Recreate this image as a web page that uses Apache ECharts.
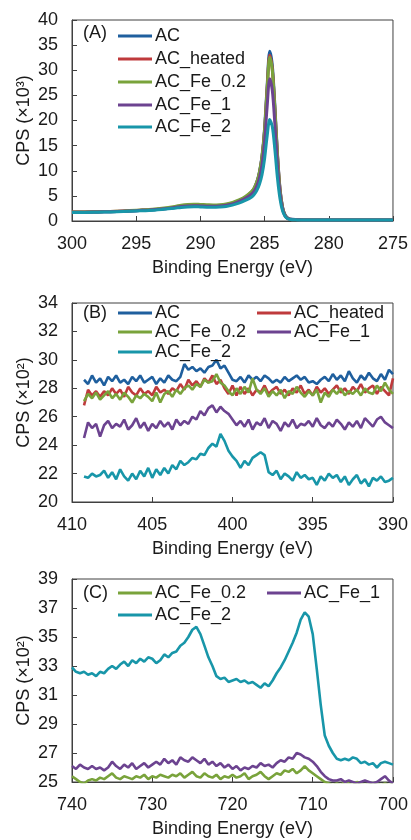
<!DOCTYPE html>
<html><head><meta charset="utf-8">
<script src="https://cdn.jsdelivr.net/npm/echarts@6/dist/echarts.min.js"></script>
<style>html,body{margin:0;padding:0;background:#fff}#c{width:411px;height:840px}</style>
</head><body><div id="c"></div>
<script>
// ---------- Panel A (C 1s) ----------
const xA = [300,299,298,297,296,295,294,293,292,291.5,291,290.5,290,289.5,289,288.5,288,287.5,287,286.5,286,285.8,285.6,285.4,285.2,285.0,284.8,284.6,284.4,284.2,284.0,283.8,283.6,283.4,283.2,283.0,282.5,282,281,280,279,278,277,276,275];
const A_AC = [1.75,1.75,1.8,1.85,1.95,2.05,2.2,2.4,2.7,2.9,3.05,3.1,3.05,3.0,3.0,3.05,3.2,3.5,4.0,4.7,5.8,6.6,7.8,9.8,13.0,18.5,27.0,33.8,31.0,23.0,13.5,6.5,2.8,1.2,0.6,0.4,0.3,0.25,0.2,0.2,0.2,0.2,0.2,0.2,0.2];
const A_heated = [1.8,1.8,1.85,1.9,2.0,2.1,2.25,2.45,2.75,2.95,3.1,3.15,3.1,3.05,3.05,3.1,3.25,3.55,4.05,4.75,5.8,6.5,7.7,9.6,12.7,18.0,26.4,33.0,30.3,22.4,13.2,6.3,2.7,1.1,0.55,0.35,0.28,0.22,0.2,0.2,0.2,0.2,0.2,0.2,0.2];
const A_Fe02 = [1.8,1.8,1.85,1.9,2.0,2.15,2.3,2.55,2.9,3.15,3.3,3.35,3.3,3.25,3.2,3.25,3.4,3.7,4.2,4.9,5.9,6.6,7.8,9.7,12.8,18.0,26.2,32.6,30.0,22.3,13.0,6.2,2.6,1.1,0.5,0.3,0.25,0.2,0.2,0.2,0.2,0.2,0.2,0.2,0.2];
const A_Fe1 = [1.75,1.75,1.8,1.85,1.95,2.05,2.2,2.4,2.7,2.9,3.0,3.05,3.0,2.95,2.95,3.0,3.15,3.4,3.9,4.5,5.4,6.0,7.0,8.6,11.2,15.8,22.8,28.3,26.0,19.3,11.3,5.5,2.3,1.0,0.5,0.3,0.25,0.2,0.2,0.2,0.2,0.2,0.2,0.2,0.2];
const A_Fe2 = [1.7,1.7,1.75,1.8,1.9,2.0,2.1,2.3,2.55,2.7,2.8,2.85,2.8,2.75,2.75,2.8,2.9,3.15,3.55,4.1,4.8,5.3,6.1,7.3,9.2,12.4,16.9,20.2,18.8,14.2,8.6,4.4,2.0,0.9,0.45,0.3,0.22,0.2,0.2,0.2,0.2,0.2,0.2,0.2,0.2];

// ---------- Panel B (N 1s) ----------
const xB = [409.25,409,408.75,408.5,408.25,408,407.75,407.5,407.25,407,406.75,406.5,406.25,406,405.75,405.5,405.25,405,404.75,404.5,404.25,404,403.75,403.5,403.25,403,402.75,402.5,402.25,402,401.75,401.5,401.25,401,400.75,400.5,400.25,400,399.75,399.5,399.25,399,398.75,398.5,398.25,398,397.75,397.5,397.25,397,396.75,396.5,396.25,396,395.75,395.5,395.25,395,394.75,394.5,394.25,394,393.75,393.5,393.25,393,392.75,392.5,392.25,392,391.75,391.5,391.25,391,390.75,390.5,390.25,390];
const B_AC = [28.6,28.3,28.9,28.4, 28.7,28.2,28.8,28.5, 28.9,28.4,28.6,28.3, 28.8,28.5,28.9,28.4, 28.6,28.8,28.3,28.7, 28.4,28.9,28.6,28.5, 28.8,29.7,29.3,29.5, 29.2,29.4,29.1,29.5, 29.6,30.0,29.4,29.6, 29.1,28.6,28.5,28.8, 28.4,28.9,28.6,28.8, 28.5,28.9,28.7,28.4, 28.6,28.4,28.8,28.5, 28.7,28.9,28.6,28.8, 28.4,28.5,28.3,28.6, 28.8,28.5,29.0,28.6, 28.9,28.5,29.2,28.7, 28.4,28.9,28.6,29.1, 28.7,28.5,29.0,28.6, 29.3,29.0];
const B_heated = [26.8,27.9,27.5,27.8, 27.4,27.8,27.5,28.0, 27.6,27.9,27.4,28.1, 27.7,27.5,28.0,27.6, 27.8,27.5,28.1,27.7, 27.9,27.6,28.0,27.8, 28.3,27.9,28.6,28.2, 28.5,28.1,28.7,28.4, 28.9,28.3,28.6,28.0, 27.6,28.2,27.5,28.1, 27.6,28.0,27.5,27.9, 27.7,28.2,27.6,27.9, 28.1,27.6,27.9,27.5, 28.0,27.7,28.2,27.6, 27.9,27.5,28.1,27.7, 28.0,27.6,27.9,28.2, 27.7,28.0,27.6,28.1, 27.8,28.3,27.7,28.0, 28.2,27.6,28.1,27.8, 27.5,28.7];
const B_Fe02 = [27.1,27.6,27.3,27.7, 27.2,27.5,27.8,27.3, 27.6,27.2,27.7,27.4, 27.0,27.5,27.3,27.6, 27.4,27.1,27.7,27.0, 27.6,27.8,27.4,27.9, 27.6,28.0,28.2,27.9, 28.3,28.1,28.6,28.4, 28.5,29.0,28.4,28.2, 27.8,27.5,28.0,27.6, 28.1,27.7,28.7,27.9, 27.6,28.0,27.4,27.8, 27.5,27.9,27.3,27.8, 27.6,28.1,27.7,27.4, 27.8,27.5,27.9,27.0, 27.7,27.4,27.9,27.6, 28.0,27.5,27.8,27.6, 27.9,27.5,28.0,27.7, 27.6,28.2,27.8,28.4, 27.9,27.6];
const B_Fe1 = [24.5,25.6,25.2,25.5, 24.6,25.4,25.7,25.2, 25.5,25.3,25.8,25.1, 25.4,25.9,25.2,25.6, 25.0,25.5,25.2,25.7, 25.3,25.6,25.1,25.8, 25.4,25.7,25.5,26.0, 25.8,26.4,26.1,26.6, 26.8,26.3,26.7,26.4, 26.2,25.8,25.4,25.7, 25.3,25.8,25.1,25.6, 25.4,25.9,25.2,25.7, 25.5,25.0,25.6,25.3, 25.8,25.2,25.5,25.4, 25.7,25.3,25.9,25.4, 25.2,25.6,25.3,25.8, 25.5,25.1,25.6,25.3, 25.7,25.2,25.9,25.6, 25.3,25.8,26.0,25.6, 25.4,25.2];
const B_Fe2 = [21.8,21.7,22.0,21.8, 21.9,22.2,21.7,22.1, 21.6,22.3,21.8,21.5, 22.0,21.6,22.2,21.8, 22.4,21.7,22.3,21.9, 22.4,22.0,22.6,22.3, 22.9,22.6,22.8,23.1, 23.0,23.4,23.3,23.8, 24.1,23.9,24.8,24.3, 23.6,23.2,22.9,22.4, 22.9,22.6,23.1,23.3, 23.5,23.3,22.1,21.9, 22.2,21.6,22.0,21.8, 21.5,22.1,21.7,21.9, 21.6,21.7,21.2,21.8, 21.5,22.0,21.7,21.9, 21.4,21.8,21.2,21.6, 21.9,21.3,21.6,21.1, 21.7,21.5,21.8,21.4, 21.5,21.7];

// ---------- Panel C (Fe 2p) ----------
const xC = [740,739.5,739,738.5,738,737.5,737,736.5,736,735.5,735,734.5,734,733.5,733,732.5,732,731.5,731,730.5,730,729.5,729,728.5,728,727.5,727,726.5,726,725.5,725,724.5,724,723.5,723,722.5,722,721.5,721,720.5,720,719.5,719,718.5,718,717.5,717,716.5,716,715.5,715,714.5,714,713.5,713,712.5,712,711.5,711,710.5,710,709.5,709,708.5,708,707.5,707,706.5,706,705.5,705,704.5,704,703.5,703,702.5,702,701.5,701,700.5,700];
const C_Fe02 = [25.4,25.2,25.0,24.9,25.1,25.2,25.1,25.3,25.2,25.4,25.6, 25.3,25.2,25.4,25.3,25.2,25.4,25.3,25.5,25.2,25.4, 25.3,25.5,25.4,25.3,25.5,25.4,25.6,25.3,25.5,25.7, 25.4,25.3,25.6,25.4,25.3,25.5,25.2,25.4,25.3,25.5, 25.3,25.4,25.6,25.2,25.4,25.5,25.7,25.4,25.2,25.4, 25.6,25.5,25.8,25.7,25.9,25.6,25.8,26.1,25.8,25.6, 25.4,25.2,25.0,24.9,24.8,24.9,24.8,25.0,24.9,24.8, 25.0,24.9,24.8,24.9,24.8,24.9,24.8,24.9,24.8,24.9];
const C_Fe1 = [26.1,25.9,26.2,26.0,25.9,26.1,25.9,26.0,25.8,26.0,26.4, 26.1,25.9,26.2,26.0,26.3,25.9,26.1,26.3,26.0,26.2, 26.4,26.2,26.6,26.3,26.5,26.2,26.7,26.5,26.4,26.7, 26.5,26.3,26.6,26.2,26.4,26.1,26.3,26.0,26.2,25.9, 26.1,25.8,26.0,25.9,26.1,26.0,26.3,26.1,26.2,26.0, 26.3,26.5,26.4,26.7,26.6,27.0,26.9,26.7,26.6,26.4, 26.1,25.7,25.4,25.2,25.1,25.1,25.2,25.0,25.1,25.0, 24.9,25.0,25.1,25.0,24.9,25.0,25.2,25.4,25.1,24.9];
const C_Fe2 = [32.9,32.6,32.5,32.6,32.4,32.5,32.3,32.6,32.5,32.8,33.0, 32.8,33.1,33.3,33.0,33.4,33.2,33.5,33.3,33.6,33.5, 33.2,33.4,33.8,33.6,33.9,34.0,34.4,34.6,35.0,35.5, 35.7,35.2,34.4,33.6,33.0,32.3,32.1,32.2,31.9,32.0, 32.1,31.9,32.0,31.8,31.9,31.7,31.5,31.8,31.6,32.0, 32.5,32.9,33.4,34.0,34.6,35.3,36.2,36.7,36.4,35.2, 32.8,30.3,28.2,27.5,27.0,26.6,26.5,26.6,26.5,26.7, 26.6,26.3,26.4,26.2,26.3,26.0,26.3,26.4,26.3,26.2];

const names = ['AC','AC_heated','AC_Fe_0.2','AC_Fe_1','AC_Fe_2'];
const colors = {'AC':'#1f5f9e','AC_heated':'#bf3a3c','AC_Fe_0.2':'#79a33b','AC_Fe_1':'#6c4390','AC_Fe_2':'#1896a9'};

const FONT = "'Liberation Sans', Arial, sans-serif";
const TXT = '#1a1a1a';
const AX = '#404040';

function pairs(xs, ys){ return xs.map((x,i)=>[x, ys[i]]); }

function mkX(idx, min, max, interval){
  return {type:'value', gridIndex:idx, min, max, interval, inverse:true,
    name:'Binding Energy (eV)', nameLocation:'middle', nameGap:38, nameMoveOverlap:false,
    nameTextStyle:{fontFamily:FONT,fontSize:18,color:TXT},
    axisLine:{show:true,lineStyle:{color:AX,width:1}},
    axisTick:{show:true,inside:true,length:5,lineStyle:{color:AX}},
    axisLabel:{fontFamily:FONT,fontSize:18,color:TXT,margin:14},
    splitLine:{show:false}};
}
function mkY(idx, min, max, interval, nm){
  return {type:'value', gridIndex:idx, min, max, interval,
    name:nm, nameLocation:'middle', nameGap:39, nameMoveOverlap:false,
    nameTextStyle:{fontFamily:FONT,fontSize:18,color:TXT},
    axisLine:{show:true,lineStyle:{color:AX,width:1}},
    axisTick:{show:true,inside:true,length:5,lineStyle:{color:AX}},
    axisLabel:{fontFamily:FONT,fontSize:18,color:TXT,margin:14},
    splitLine:{show:false}};
}
function mkS(name, idx, xs, ys, w, smooth){
  return {type:'line', name, xAxisIndex:idx, yAxisIndex:idx, data:pairs(xs,ys),
    showSymbol:false, symbol:'none', smooth:smooth||false, clip:true,
    lineStyle:{color:colors[name], width:w}, itemStyle:{color:colors[name]}, z:2};
}
function mkL(name, left, top){
  return {data:[name], left, top, padding:0, itemWidth:34, itemHeight:3, icon:'rect',
    itemGap:0, selectedMode:false,
    textStyle:{fontFamily:FONT,fontSize:18,color:TXT,padding:[0,0,0,-2]}};
}
function lbl(t, x, y){
  return {type:'text', left:x, top:y, style:{text:t, font:'18px '+FONT, fill:TXT}};
}

const chart = echarts.init(document.getElementById('c'), null, {renderer:'canvas'});
chart.setOption({
  animation:false,
  backgroundColor:'#fff',
  grid:[
    {left:72, top:20, width:321, height:201, show:true, borderColor:AX, borderWidth:1},
    {left:72, top:303, width:321, height:199, show:true, borderColor:AX, borderWidth:1},
    {left:72, top:579, width:321, height:203, show:true, borderColor:AX, borderWidth:1}
  ],
  xAxis:[mkX(0,275,300,5), mkX(1,390,410,5), mkX(2,700,740,10)],
  yAxis:[mkY(0,0,40,5,'CPS (×10³)'), mkY(1,20,34,2,'CPS (×10²)'), mkY(2,25,39,2,'CPS (×10²)')],
  legend:[
    mkL('AC',118,27), mkL('AC_heated',118,50), mkL('AC_Fe_0.2',118,73), mkL('AC_Fe_1',118,96), mkL('AC_Fe_2',118,118),
    mkL('AC',118,304), mkL('AC_heated',257,304), mkL('AC_Fe_0.2',118,323), mkL('AC_Fe_1',257,323), mkL('AC_Fe_2',118,343),
    mkL('AC_Fe_0.2',118,584), mkL('AC_Fe_1',267,584), mkL('AC_Fe_2',118,606)
  ],
  graphic:[ lbl('(A)',83,24), lbl('(B)',83,304), lbl('(C)',83,584) ],
  series:[
    mkS('AC',0,xA,A_AC,3,0.3), mkS('AC_heated',0,xA,A_heated,3,0.3), mkS('AC_Fe_0.2',0,xA,A_Fe02,3,0.3),
    mkS('AC_Fe_1',0,xA,A_Fe1,3,0.3), mkS('AC_Fe_2',0,xA,A_Fe2,3,0.3),
    mkS('AC',1,xB,B_AC,2.6), mkS('AC_heated',1,xB,B_heated,2.6), mkS('AC_Fe_0.2',1,xB,B_Fe02,2.6),
    mkS('AC_Fe_1',1,xB,B_Fe1,2.6), mkS('AC_Fe_2',1,xB,B_Fe2,2.6),
    mkS('AC_Fe_0.2',2,xC,C_Fe02,2.6), mkS('AC_Fe_1',2,xC,C_Fe1,2.6), mkS('AC_Fe_2',2,xC,C_Fe2,2.6)
  ]
});
</script></body></html>
